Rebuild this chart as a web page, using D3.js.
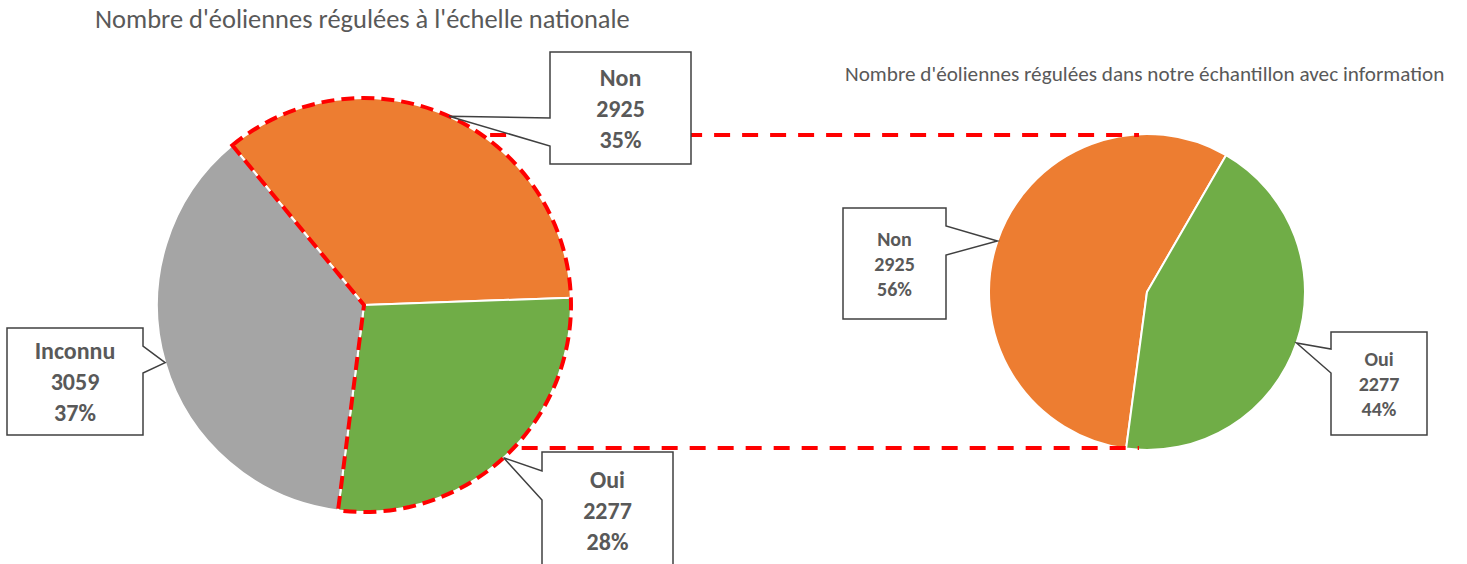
<!DOCTYPE html>
<html><head><meta charset="utf-8">
<script src="https://cdn.jsdelivr.net/npm/d3@7"></script>
<style>
html,body{margin:0;padding:0;background:#fff;}
svg{display:block;}
text{font-family:Carlito,Lato,"Open Sans",sans-serif;}
</style></head>
<body>
<svg id="chart" width="1467" height="564"></svg>
<script>
// ---- data ----
const titleNational = "Nombre d'éoliennes régulées à l'échelle nationale";
const titleSample = "Nombre d'éoliennes régulées dans notre échantillon avec information";
const nationalCategories = ["Non", "Oui", "Inconnu"];
const nationalValues = [2925, 2277, 3059];
const nationalPercents = ["35%", "28%", "37%"];
const sampleCategories = ["Non", "Oui"];
const sampleValues = [2925, 2277];
const samplePercents = ["56%", "44%"];
const categoryColors = {"Non": "#ED7D31", "Oui": "#70AD47", "Inconnu": "#A5A5A5"};

// ---- layout ----
const svg = d3.select("#chart");
const deg = Math.PI / 180;
const L = {cx: 364, cy: 305, r: 207, start: -39.5};
const R = {cx: 1147, cy: 292, r: 158, start: -172.4};
const textColor = "#595959";

// callout boxes (layout): x,y,w,h, side of wedge, wedge base y's
const nationalBoxes = [
  {x: 550, y: 52, w: 141, h: 112, side: "left", b1: 118, b2: 146},
  {x: 542, y: 452, w: 131, h: 116, side: "left", b1: 471, b2: 500},
  {x: 7, y: 328, w: 136, h: 107, side: "right", b1: 346, b2: 373}
];
const sampleBoxes = [
  {x: 843, y: 208, w: 103, h: 111, side: "right", b1: 226, b2: 255},
  {x: 1331, y: 332, w: 96, h: 103, side: "left", b1: 349, b2: 373}
];

function fitTitle(txt, x0, x1, y, size) {
  const t = svg.append("text").attr("x", x0).attr("y", y)
    .attr("fill", textColor).attr("font-size", size).text(txt);
  const w = t.node().getComputedTextLength();
  t.attr("font-size", size * (x1 - x0) / w);
  return t;
}

function drawPie(cfg, cats, vals) {
  const pieData = d3.pie().sort(null).value(d => d.v)
    .startAngle(cfg.start * deg).endAngle(cfg.start * deg + 2 * Math.PI)(vals.map((v, i) => ({cat: cats[i], v})));
  const arc = d3.arc().innerRadius(0).outerRadius(cfg.r);
  const g = svg.append("g").attr("transform", `translate(${cfg.cx},${cfg.cy})`);
  g.selectAll("path.slice").data(pieData).join("path")
    .attr("class", "slice")
    .attr("d", arc)
    .attr("fill", d => categoryColors[d.data.cat])
    .attr("stroke", "#fff").attr("stroke-width", 2).attr("stroke-linejoin", "round");
  return {g, pieData, arc};
}

function callout(box, tip, lines, size, spacing) {
  let p;
  const {x, y, w, h} = box;
  if (box.side === "left") {
    p = `M${x},${y} L${x + w},${y} L${x + w},${y + h} L${x},${y + h} L${x},${box.b2} L${tip[0]},${tip[1]} L${x},${box.b1} Z`;
  } else {
    p = `M${x},${y} L${x + w},${y} L${x + w},${box.b1} L${tip[0]},${tip[1]} L${x + w},${box.b2} L${x + w},${y + h} L${x},${y + h} Z`;
  }
  svg.append("path").attr("d", p).attr("fill", "#fff")
    .attr("stroke", "#404040").attr("stroke-width", 1.5).attr("stroke-linejoin", "miter");
  const cx = x + w / 2, cy = y + h / 2;
  lines.forEach((s, i) => {
    svg.append("text").attr("x", cx).attr("y", cy + (i - 1) * spacing)
      .attr("text-anchor", "middle").attr("dominant-baseline", "central")
      .attr("font-weight", "bold").attr("font-size", size)
      .attr("fill", textColor).text(s);
  });
}

// titles
fitTitle(titleNational, 95, 630, 28, 21);
fitTitle(titleSample, 845, 1445, 81, 17);

// pies
const left = drawPie(L, nationalCategories, nationalValues);
const right = drawPie(R, sampleCategories, sampleValues);

// red dashed outline around Non + Oui on the national pie
const nonSlice = left.pieData[0], ouiSlice = left.pieData[1];
left.g.append("path")
  .attr("d", d3.arc().innerRadius(0).outerRadius(L.r)({startAngle: nonSlice.startAngle, endAngle: ouiSlice.endAngle}))
  .attr("fill", "none").attr("stroke", "#FF0000").attr("stroke-width", 4)
  .attr("stroke-dasharray", "13 7");

// connecting dashed lines
const topY = R.cy - R.r + 1, botY = R.cy + R.r - 2;
[topY, botY].forEach(yy => {
  const dy = yy - L.cy;
  const x0 = L.cx + Math.sqrt(L.r * L.r - dy * dy) + 8;
  svg.append("line").attr("x1", x0).attr("x2", R.cx - 8)
    .attr("y1", yy).attr("y2", yy)
    .attr("stroke", "#FF0000").attr("stroke-width", 4).attr("stroke-dasharray", "16 12");
});

// callouts
const tipArcL = d3.arc().innerRadius(L.r).outerRadius(L.r);
left.pieData.forEach((d, i) => {
  const c = tipArcL.centroid(d);
  callout(nationalBoxes[i], [c[0] + L.cx, c[1] + L.cy],
    [nationalCategories[i], String(nationalValues[i]), nationalPercents[i]], 24, 31);
});
const tipArcR = d3.arc().innerRadius(R.r).outerRadius(R.r);
right.pieData.forEach((d, i) => {
  const c = tipArcR.centroid(d);
  callout(sampleBoxes[i], [c[0] + R.cx, c[1] + R.cy],
    [sampleCategories[i], String(sampleValues[i]), samplePercents[i]], 20, 25);
});
</script>
</body></html>
